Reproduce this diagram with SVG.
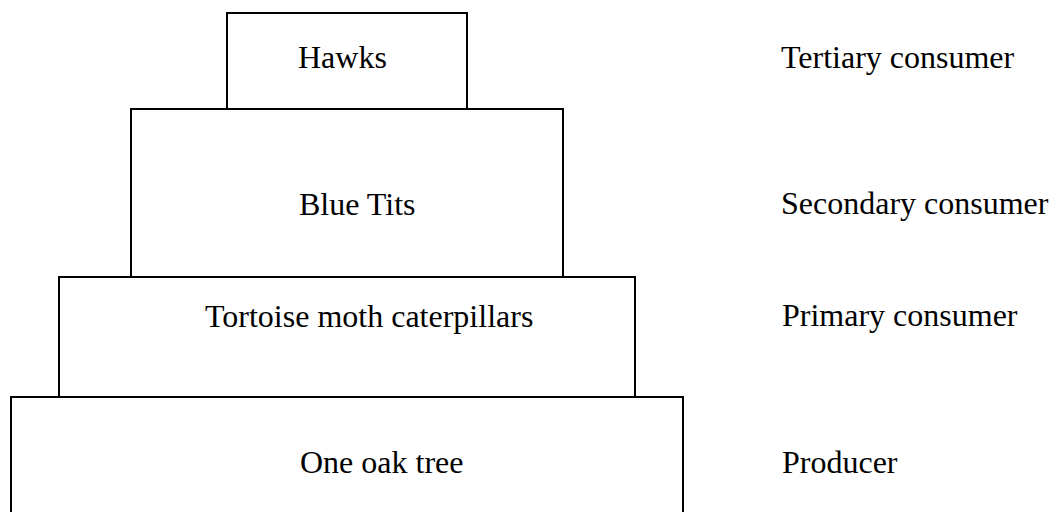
<svg xmlns="http://www.w3.org/2000/svg" width="1051" height="512" viewBox="0 0 1051 512">
  <style>
    .tier { fill: #ffffff; stroke: #000000; stroke-width: 2; }
    .label { font-family: "Liberation Serif", "Times New Roman", serif; font-size: 32px; fill: #000000; }
  </style>
  <rect width="1051" height="512" fill="#ffffff"/>

  <!-- pyramid tiers, top to bottom -->
  <g id="hawks">
    <rect class="tier" x="227" y="13" width="240" height="96"/>
    <text class="label" x="298" y="68">Hawks</text>
  </g>
  <g id="blue-tits">
    <rect class="tier" x="131" y="109" width="432" height="168"/>
    <text class="label" x="299" y="215">Blue Tits</text>
  </g>
  <g id="caterpillars">
    <rect class="tier" x="59" y="277" width="576" height="120"/>
    <text class="label" x="205" y="327">Tortoise moth caterpillars</text>
  </g>
  <g id="oak-tree">
    <rect class="tier" x="11" y="397" width="672" height="130"/>
    <text class="label" x="300" y="473">One oak tree</text>
  </g>

  <!-- trophic level names -->
  <g id="levels">
    <text class="label" x="781" y="68">Tertiary consumer</text>
    <text class="label" x="781" y="214">Secondary consumer</text>
    <text class="label" x="782" y="326">Primary consumer</text>
    <text class="label" x="782" y="473">Producer</text>
  </g>

  <!-- no connectors in this diagram -->
  <g id="connectors"/>
</svg>
